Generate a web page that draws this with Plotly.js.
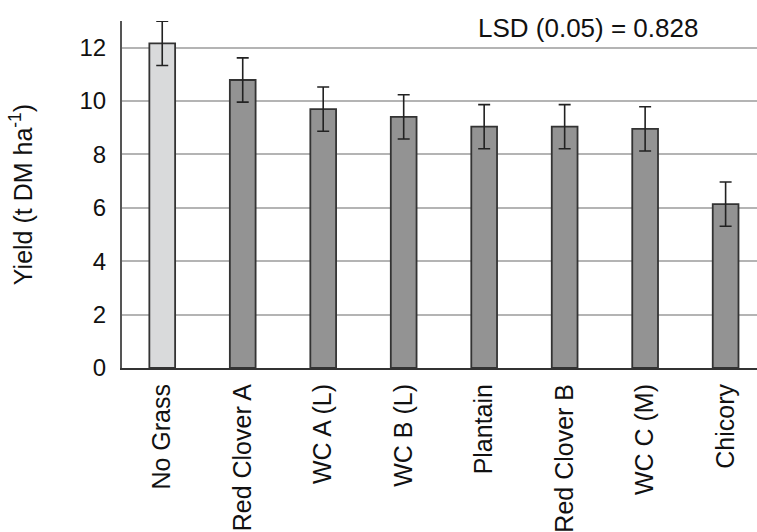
<!DOCTYPE html>
<html>
<head>
<meta charset="utf-8">
<script src="https://cdn.plot.ly/plotly-3.0.1.min.js"></script>
<style>html,body{margin:0;padding:0;background:#fff;}#chart{width:757px;height:532px;}</style>
</head>
<body>
<div id="chart"></div>
<script>
const categories = ["No Grass", "Red Clover A", "WC A (L)", "WC B (L)", "Plantain", "Red Clover B", "WC C (M)", "Chicory"];
const yields = [12.16, 10.79, 9.70, 9.41, 9.04, 9.04, 8.96, 6.14];
const lsd = 0.828;
const barColors = ["#d9dadb", "#939393", "#939393", "#939393", "#939393", "#939393", "#939393", "#939393"];
const yTicks = [0, 2, 4, 6, 8, 10, 12];

const trace = {
  type: "bar",
  x: categories,
  y: yields,
  width: 0.32,
  marker: {color: barColors, line: {color: "#333333", width: 1.8}},
  error_y: {type: "constant", value: lsd, visible: true, color: "#222222", thickness: 1.6, width: 6}
};

const layout = {
  width: 757, height: 532,
  margin: {l: 122, r: 0, t: 21, b: 164, autoexpand: false},
  paper_bgcolor: "#ffffff", plot_bgcolor: "#ffffff",
  font: {family: "Liberation Sans, Arial, sans-serif", color: "#111111"},
  showlegend: false,
  xaxis: {
    range: [-0.5, 7.39], automargin: false,
    tickangle: -90, tickfont: {size: 25, color: "#111111"},
    showline: true, linecolor: "#333333", linewidth: 2,
    showgrid: false, ticks: "", ticklabelstandoff: 4
  },
  yaxis: {
    range: [0, 13], automargin: false,
    tickvals: yTicks, ticktext: yTicks.map(String),
    tickfont: {size: 24, color: "#111111"},
    showline: true, linecolor: "#555555", linewidth: 2,
    showgrid: true, gridcolor: "#b4b4b4", gridwidth: 2,
    zeroline: false, ticks: "", ticklabelstandoff: 9,
    title: {text: "Yield (t DM ha<sup>-1</sup>)", font: {size: 25, color: "#111111"}, standoff: 40}
  },
  annotations: [{
    text: "LSD (0.05) = 0.828", xref: "paper", yref: "paper",
    x: 0.734, y: 0.98, xanchor: "center", yanchor: "middle",
    showarrow: false, font: {size: 26, color: "#111111"}
  }]
};

Plotly.newPlot("chart", [trace], layout, {staticPlot: true, displayModeBar: false});
</script>
</body>
</html>
